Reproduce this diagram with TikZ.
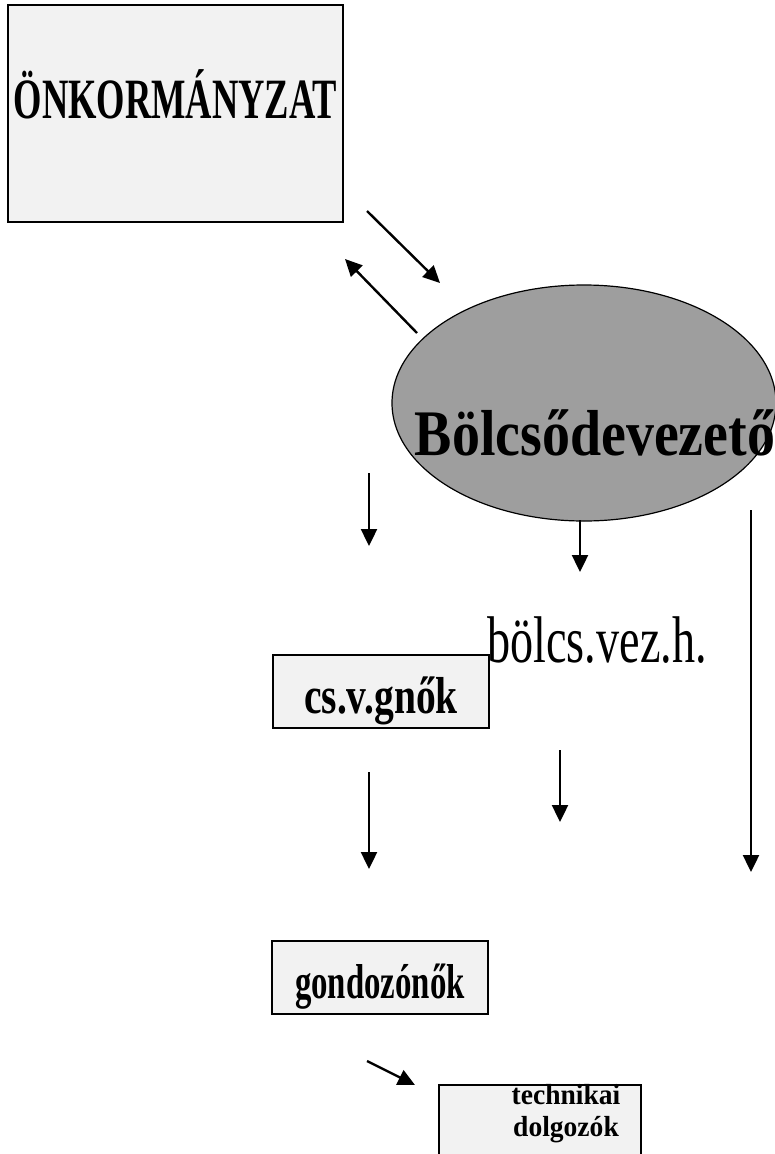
\documentclass[tikz,border=0pt]{standalone}
\usepackage{fontspec}
\usepackage{graphicx}
\setmainfont{Liberation Serif}
\usetikzlibrary{arrows.meta,shapes.geometric}
\begin{document}
\begin{tikzpicture}[x=1pt,y=-1pt,
  arr/.style={line width=2.4pt,-{Triangle[length=17pt,width=16pt]}},
  boxed/.style={draw=black,line width=1.8pt,fill=black!5,inner sep=0pt}]
\useasboundingbox (0,0) rectangle (775,1154);
% top box
\node[boxed,anchor=base,minimum width=335pt,text height=113pt,text depth=104pt]
  (onk) at (175.5,118) {\fontsize{57}{60}\selectfont\bfseries\scalebox{0.64}[1]{ÖNKORMÁNYZAT}};
% ellipse
\node[ellipse,draw=black,line width=1.2pt,fill=black!38,minimum width=384pt,minimum height=236pt,inner sep=0pt]
  (ell) at (584,403) {};
\node[anchor=base,inner sep=0pt] (bv) at (595,455)
  {\fontsize{65}{68}\selectfont\bfseries\scalebox{0.86}[1]{Bölcsődevezető}};
% text bolcs.vez.h.
\node[anchor=base,inner sep=0pt] (bvh) at (597,662)
  {\fontsize{66}{68}\selectfont\scalebox{0.70}[1]{bölcs.vez.h.}};
% cs.v.gnok box
\node[boxed,anchor=base,minimum width=216pt,text height=58pt,text depth=15pt]
  (csv) at (381,713) {\fontsize{52}{54}\selectfont\bfseries\scalebox{0.76}[1]{cs.v.gnők}};
% gondozonok box
\node[boxed,anchor=base,minimum width=216pt,text height=57pt,text depth=16pt]
  (gond) at (380,998) {\fontsize{49}{52}\selectfont\bfseries\scalebox{0.67}[1]{gondozónők}};
% technikai dolgozok
\node[boxed,minimum width=202pt,minimum height=80pt] (tech) at (540,1125) {};
\node[align=center,inner sep=0pt,font=\fontsize{29}{32}\selectfont\bfseries] (techt) at (566,1114)
  {\scalebox{0.95}[1]{technikai}\\\scalebox{0.95}[1]{dolgozók}};
% arrow endpoints
\coordinate (a1s) at (367,211); \coordinate (a1e) at (440,283);
\coordinate (a2s) at (417,333); \coordinate (a2e) at (345,259);
\coordinate (a3s) at (369,473); \coordinate (a3e) at (369,546);
\coordinate (a4s) at (580,520); \coordinate (a4e) at (580,572);
\coordinate (a5s) at (751,510); \coordinate (a5e) at (751,872);
\coordinate (a6s) at (369,772); \coordinate (a6e) at (369,869);
\coordinate (a7s) at (560,750); \coordinate (a7e) at (560,822);
\coordinate (a8s) at (367,1061); \coordinate (a8e) at (415,1085);
\draw[arr] (a1s) -- (a1e);
\draw[arr] (a2s) -- (a2e);
\draw[arr] (a3s) -- (a3e);
\draw[arr] (a4s) -- (a4e);
\draw[arr] (a5s) -- (a5e);
\draw[arr] (a6s) -- (a6e);
\draw[arr] (a7s) -- (a7e);
\draw[arr] (a8s) -- (a8e);
\end{tikzpicture}
\end{document}
